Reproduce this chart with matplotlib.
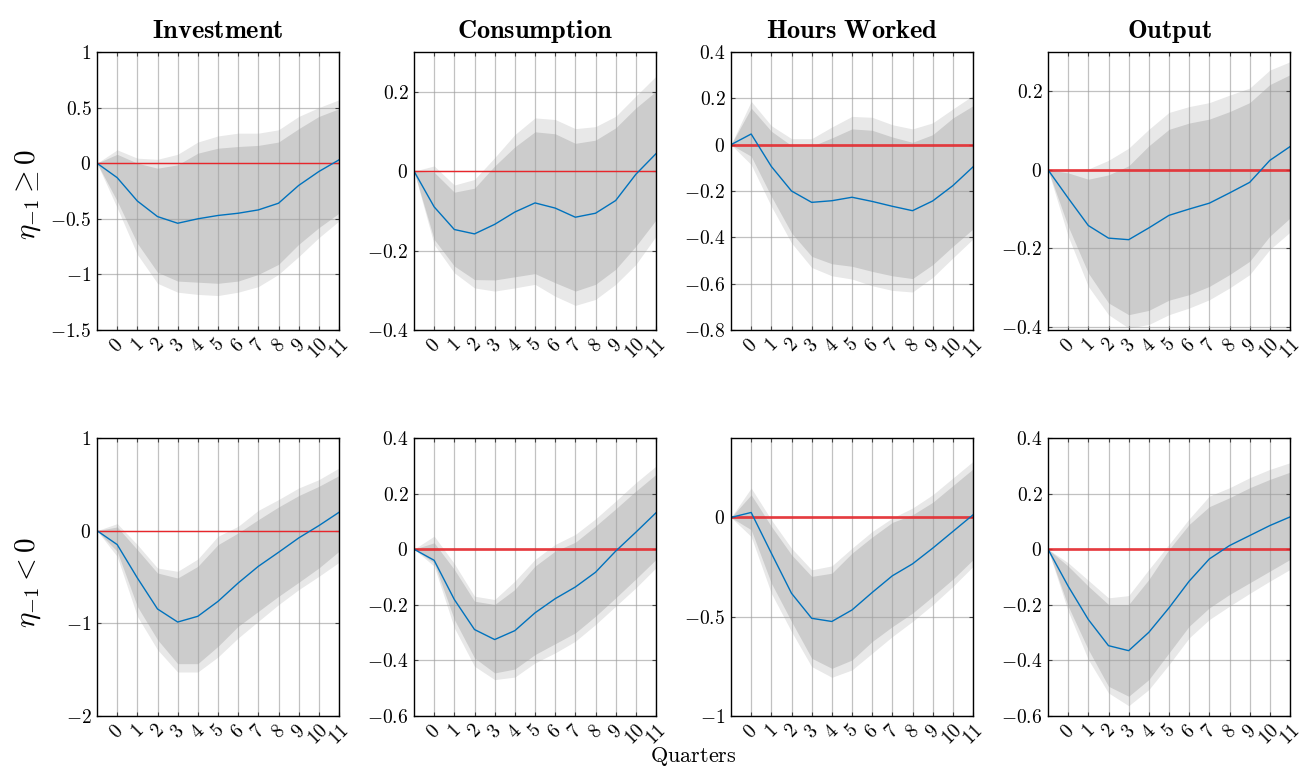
import numpy as np
import matplotlib
matplotlib.use("Agg")
import matplotlib.pyplot as plt

plt.rcParams['mathtext.fontset'] = 'cm'
plt.rcParams['font.family'] = 'serif'
plt.rcParams['font.serif'] = ['DejaVu Serif']

# horizon: 13 points, first one is the impact period
quarters = list(range(13))
tick_labels = [str(q) for q in range(12)]

titles = ['Investment', 'Consumption', 'Hours Worked', 'Output']
row_labels = [r'$\eta_{-1} \geq 0$', r'$\eta_{-1} < 0$']

# ---- eta_{-1} >= 0 ----
inv_pos_med = [0, -0.13, -0.34, -0.48, -0.54, -0.50, -0.47, -0.45, -0.42, -0.36, -0.20, -0.075, 0.03]
inv_pos_in_hi = [0, 0.08, 0.0, -0.045, -0.015, 0.09, 0.135, 0.15, 0.16, 0.19, 0.31, 0.42, 0.49]
inv_pos_in_lo = [0, -0.34, -0.72, -0.98, -1.06, -1.07, -1.08, -1.06, -1.0, -0.91, -0.73, -0.58, -0.45]
inv_pos_out_hi = [0, 0.12, 0.045, 0.035, 0.08, 0.19, 0.245, 0.27, 0.27, 0.30, 0.42, 0.50, 0.57]
inv_pos_out_lo = [0, -0.40, -0.82, -1.08, -1.16, -1.18, -1.19, -1.16, -1.11, -1.0, -0.84, -0.67, -0.52]

cons_pos_med = [0, -0.09, -0.147, -0.158, -0.134, -0.103, -0.08, -0.093, -0.116, -0.106, -0.074, -0.008, 0.044]
cons_pos_in_hi = [0, -0.003, -0.053, -0.043, 0.013, 0.061, 0.099, 0.094, 0.07, 0.078, 0.109, 0.159, 0.201]
cons_pos_in_lo = [0, -0.172, -0.239, -0.273, -0.274, -0.266, -0.258, -0.281, -0.302, -0.285, -0.247, -0.189, -0.123]
cons_pos_out_hi = [0, 0.013, -0.035, -0.021, 0.034, 0.092, 0.134, 0.13, 0.107, 0.112, 0.138, 0.189, 0.239]
cons_pos_out_lo = [0, -0.185, -0.256, -0.294, -0.302, -0.294, -0.285, -0.315, -0.338, -0.323, -0.285, -0.235, -0.164]

hrs_pos_med = [0, 0.046, -0.094, -0.2, -0.249, -0.242, -0.227, -0.245, -0.266, -0.285, -0.243, -0.177, -0.096]
hrs_pos_in_hi = [0, 0.158, 0.058, -0.004, -0.007, 0.029, 0.068, 0.062, 0.033, 0.01, 0.043, 0.115, 0.168]
hrs_pos_in_lo = [0, -0.05, -0.223, -0.381, -0.482, -0.514, -0.525, -0.547, -0.566, -0.578, -0.518, -0.439, -0.364]
hrs_pos_out_hi = [0, 0.187, 0.082, 0.026, 0.026, 0.076, 0.122, 0.118, 0.086, 0.068, 0.094, 0.154, 0.212]
hrs_pos_out_lo = [0, -0.086, -0.266, -0.424, -0.53, -0.566, -0.58, -0.609, -0.629, -0.636, -0.573, -0.489, -0.407]

out_pos_med = [0, -0.072, -0.142, -0.174, -0.178, -0.148, -0.116, -0.1, -0.085, -0.059, -0.032, 0.024, 0.059]
out_pos_in_hi = [0, -0.008, -0.024, -0.013, 0.01, 0.061, 0.103, 0.119, 0.129, 0.148, 0.171, 0.217, 0.242]
out_pos_in_lo = [0, -0.144, -0.263, -0.339, -0.369, -0.358, -0.332, -0.318, -0.297, -0.267, -0.233, -0.169, -0.123]
out_pos_out_hi = [0, -0.002, 0.002, 0.024, 0.055, 0.103, 0.146, 0.161, 0.171, 0.19, 0.208, 0.254, 0.275]
out_pos_out_lo = [0, -0.169, -0.297, -0.369, -0.403, -0.394, -0.369, -0.352, -0.331, -0.301, -0.267, -0.203, -0.159]

# ---- eta_{-1} < 0 ----
inv_neg_med = [0, -0.15, -0.51, -0.845, -0.986, -0.924, -0.763, -0.565, -0.385, -0.234, -0.079, 0.054, 0.198]
inv_neg_in_hi = [0, 0.04, -0.205, -0.457, -0.511, -0.385, -0.151, -0.025, 0.119, 0.255, 0.378, 0.478, 0.594]
inv_neg_in_lo = [0, -0.223, -0.817, -1.176, -1.435, -1.435, -1.248, -1.032, -0.871, -0.709, -0.558, -0.403, -0.223]
inv_neg_out_hi = [0, 0.076, -0.151, -0.403, -0.439, -0.306, -0.061, 0.047, 0.219, 0.335, 0.46, 0.55, 0.676]
inv_neg_out_lo = [0, -0.277, -0.924, -1.284, -1.525, -1.525, -1.363, -1.158, -0.978, -0.799, -0.637, -0.493, -0.342]

cons_neg_med = [0, -0.04, -0.181, -0.289, -0.325, -0.293, -0.229, -0.178, -0.136, -0.083, -0.007, 0.061, 0.131]
cons_neg_in_hi = [0, 0.023, -0.073, -0.187, -0.199, -0.145, -0.061, -0.007, 0.025, 0.083, 0.145, 0.209, 0.269]
cons_neg_in_lo = [0, -0.049, -0.253, -0.391, -0.445, -0.431, -0.379, -0.34, -0.301, -0.241, -0.175, -0.107, -0.037]
cons_neg_out_hi = [0, 0.047, -0.052, -0.169, -0.181, -0.115, -0.037, 0.017, 0.053, 0.109, 0.173, 0.239, 0.299]
cons_neg_out_lo = [0, -0.061, -0.283, -0.421, -0.469, -0.46, -0.409, -0.373, -0.331, -0.271, -0.205, -0.139, -0.067]

hrs_neg_med = [0, 0.025, -0.18, -0.382, -0.508, -0.524, -0.466, -0.378, -0.294, -0.234, -0.155, -0.071, 0.013]
hrs_neg_in_hi = [0, 0.114, -0.045, -0.188, -0.297, -0.281, -0.18, -0.099, -0.025, 0.013, 0.076, 0.16, 0.244]
hrs_neg_in_lo = [0, -0.062, -0.331, -0.524, -0.709, -0.76, -0.718, -0.625, -0.55, -0.482, -0.398, -0.311, -0.213]
hrs_neg_out_hi = [0, 0.148, -0.012, -0.155, -0.264, -0.244, -0.155, -0.071, -0.003, 0.047, 0.114, 0.198, 0.282]
hrs_neg_out_lo = [0, -0.096, -0.382, -0.575, -0.751, -0.805, -0.768, -0.684, -0.6, -0.524, -0.44, -0.348, -0.247]

out_neg_med = [0, -0.133, -0.253, -0.347, -0.365, -0.299, -0.211, -0.115, -0.035, 0.013, 0.049, 0.085, 0.116]
out_neg_in_hi = [0, -0.061, -0.133, -0.199, -0.199, -0.109, -0.001, 0.089, 0.153, 0.185, 0.221, 0.251, 0.277]
out_neg_in_lo = [0, -0.205, -0.361, -0.493, -0.529, -0.469, -0.373, -0.277, -0.211, -0.163, -0.121, -0.079, -0.037]
out_neg_out_hi = [0, -0.049, -0.112, -0.175, -0.167, -0.073, 0.017, 0.109, 0.191, 0.221, 0.257, 0.287, 0.311]
out_neg_out_lo = [0, -0.223, -0.397, -0.517, -0.563, -0.505, -0.415, -0.319, -0.253, -0.205, -0.159, -0.115, -0.073]

panels = [
    [(inv_pos_med, inv_pos_in_lo, inv_pos_in_hi, inv_pos_out_lo, inv_pos_out_hi),
     (cons_pos_med, cons_pos_in_lo, cons_pos_in_hi, cons_pos_out_lo, cons_pos_out_hi),
     (hrs_pos_med, hrs_pos_in_lo, hrs_pos_in_hi, hrs_pos_out_lo, hrs_pos_out_hi),
     (out_pos_med, out_pos_in_lo, out_pos_in_hi, out_pos_out_lo, out_pos_out_hi)],
    [(inv_neg_med, inv_neg_in_lo, inv_neg_in_hi, inv_neg_out_lo, inv_neg_out_hi),
     (cons_neg_med, cons_neg_in_lo, cons_neg_in_hi, cons_neg_out_lo, cons_neg_out_hi),
     (hrs_neg_med, hrs_neg_in_lo, hrs_neg_in_hi, hrs_neg_out_lo, hrs_neg_out_hi),
     (out_neg_med, out_neg_in_lo, out_neg_in_hi, out_neg_out_lo, out_neg_out_hi)],
]

ylims = [[(-1.5, 1), (-0.4, 0.3), (-0.8, 0.4), (-0.408, 0.3)],
         [(-2, 1), (-0.6, 0.4), (-1, 0.4), (-0.6, 0.4)]]
yticks = [[[-1.5, -1, -0.5, 0, 0.5, 1], [-0.4, -0.2, 0, 0.2],
           [-0.8, -0.6, -0.4, -0.2, 0, 0.2, 0.4], [-0.4, -0.2, 0, 0.2]],
          [[-2, -1, 0, 1], [-0.6, -0.4, -0.2, 0, 0.2, 0.4],
           [-1, -0.5, 0], [-0.6, -0.4, -0.2, 0, 0.2, 0.4]]]
zero_lw = [[1.0, 1.0, 2.0, 2.0], [1.0, 2.0, 2.0, 2.0]]

W, H = 1309, 771
fig = plt.figure(figsize=(W / 100, H / 100), dpi=100)

lefts = [97, 414, 731, 1048]
tops = [52, 438]
aw, ah = 242, 278
row_label_y = [195, 583]

def fmt(v):
    s = ('%g' % v)
    return '$' + s + '$'

for r in range(2):
    for c in range(4):
        ax = fig.add_axes([lefts[c] / W, 1 - (tops[r] + ah) / H, aw / W, ah / H])
        med, ilo, ihi, olo, ohi = panels[r][c]
        ax.fill_between(quarters, olo, ohi, color='#e8e8e8', lw=0, zorder=1)
        ax.fill_between(quarters, ilo, ihi, color='#cccccc', lw=0, zorder=2)
        ax.axhline(0, color='#e8262b', lw=zero_lw[r][c], alpha=0.85 if zero_lw[r][c] > 1 else 1, zorder=3)
        ax.plot(quarters, med, color='#0072BD', lw=1.0, zorder=4)

        ax.set_xlim(0, 12)
        ax.set_ylim(*ylims[r][c])
        ax.set_xticks(quarters[1:])
        ax.set_xticklabels(['$' + t + '$' for t in tick_labels], rotation=45,
                           ha='center', va='top', fontsize=14)
        ax.set_yticks(yticks[r][c])
        ax.set_yticklabels([fmt(v) for v in yticks[r][c]], fontsize=14)
        ax.grid(True, color='#a0a0a0', lw=0.9, alpha=0.65, zorder=2.5)
        ax.set_axisbelow(False)
        ax.tick_params(direction='in', top=True, right=True, length=3, width=0.8,
                       color='#444444', pad=4)
        for sp in ax.spines.values():
            sp.set_linewidth(1.0)
            sp.set_zorder(5)

        if r == 0:
            ax.set_title(r'$\mathbf{' + titles[c].replace(' ', r'\ ') + '}$',
                         fontsize=19, pad=10)

    fig.text(28 / W, 1 - row_label_y[r] / H, row_labels[r], rotation=90,
             ha='center', va='center', fontsize=21)

fig.text(693 / W, 1 - 757 / H, r'$\mathrm{Quarters}$', ha='center', va='center', fontsize=16)

fig.savefig('out.png', dpi=100)
